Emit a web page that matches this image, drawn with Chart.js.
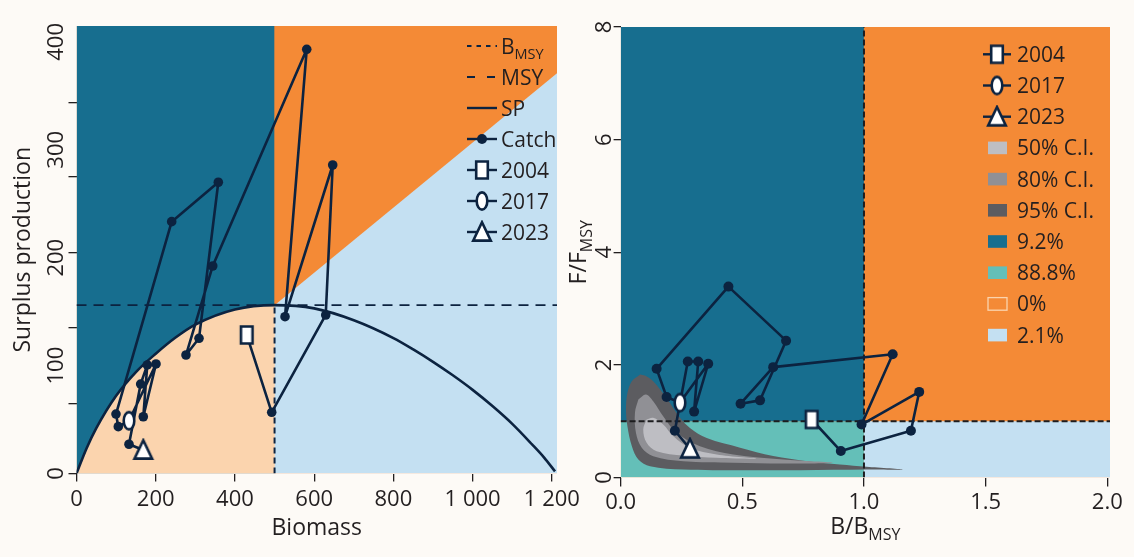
<!DOCTYPE html>
<html lang="nb">
<head>
<meta charset="utf-8">
<title>Surplus production and stock status</title>
<script src="https://cdn.jsdelivr.net/npm/chart.js@4.4.1/dist/chart.umd.min.js"></script>
<style>
  html, body { margin: 0; padding: 0; background: #fdfaf6; }
  #stage { position: relative; width: 1134px; height: 557px; overflow: hidden; background: #fdfaf6; }
  #stage canvas { position: absolute; top: 0; }
  #spChart { left: 0; }
  #kobeChart { left: 567px; }
</style>
</head>
<body>
<div id="stage">
  <canvas id="spChart" width="600" height="557"></canvas>
  <canvas id="kobeChart" width="567" height="557"></canvas>
</div>
<script>
// ---------- data ----------
const years = [2004, 2005, 2006, 2007, 2008, 2009, 2010, 2011, 2012, 2013,
               2014, 2015, 2016, 2017, 2018, 2019, 2020, 2021, 2022, 2023];

// surplus production panel: biomass and catch per year
const biomass = [429.7, 492.8, 629.2, 646.8, 526.4, 581.2, 343.9, 276.4, 309.3, 358.0,
                 240.3, 99.7, 105.5, 132.5, 200.7, 168.6, 178.7, 162.0, 132.5, 168.6];
const catches = [128.4, 56.7, 146.9, 285.9, 145.3, 393.1, 192.3, 109.8, 125.3, 269.9,
                 233.4, 55.1, 43.4, 48.9, 101.5, 52.6, 100.6, 82.9, 27.1, 21.8];

// surplus production curve
const spBiomass = [0, 25, 50, 100, 150, 200, 250, 300, 400, 500, 600, 700, 800, 850, 900, 950, 1000, 1050, 1100, 1150, 1180, 1208];
const spValues  = [0, 23, 42, 72, 94, 111, 126, 138, 152, 156, 153, 142, 125.5, 115, 103.5, 91, 77.5, 62.5, 46, 27, 15, 2];

const bmsy = 500;
const msy = 156;
// catch level at F = Fmsy (boundary between the orange and light blue zones)
const fmsyCatchB = [500, 1213];
const fmsyCatchC = [156, 371];

const leftXTicks = [0, 200, 400, 600, 800, 1000, 1200];
const leftYLabels = [0, 100, 200, 300, 400];
const leftYTickMarks = [0, 65, 135, 205, 275, 344];

// stock status panel: B/Bmsy and F/Fmsy per year
const relB = [0.785, 0.905, 1.193, 1.227, 0.990, 1.118, 0.627, 0.493, 0.573, 0.680,
              0.443, 0.148, 0.189, 0.244, 0.360, 0.302, 0.319, 0.276, 0.223, 0.285];
const relF = [1.03, 0.47, 0.83, 1.52, 0.94, 2.19, 1.96, 1.31, 1.37, 2.43,
              3.39, 1.93, 1.43, 1.33, 2.02, 1.17, 2.06, 2.06, 0.83, 0.51];

// confidence regions of the final-year status (outline points)
const ci95B = [0.080, 0.046, 0.028, 0.022, 0.028, 0.046, 0.073, 0.121, 0.258, 0.463, 0.737, 1.011, 1.161,
               1.011, 0.901, 0.765, 0.627, 0.491, 0.354, 0.285, 0.244, 0.189, 0.134, 0.100];
const ci95F = [1.83, 1.71, 1.50, 1.21, 0.91, 0.56, 0.32, 0.20, 0.14, 0.13, 0.13, 0.14, 0.14,
               0.19, 0.23, 0.29, 0.38, 0.53, 0.70, 0.88, 1.06, 1.41, 1.71, 1.81];
const ci80B = [0.073, 0.059, 0.063, 0.087, 0.134, 0.258, 0.463, 0.668, 0.874,
               0.668, 0.463, 0.326, 0.230, 0.175, 0.134, 0.104];
const ci80F = [1.384, 1.148, 0.793, 0.527, 0.378, 0.289, 0.261, 0.248, 0.261,
               0.319, 0.408, 0.555, 0.793, 1.088, 1.354, 1.473];
const ci50B = [0.107, 0.093, 0.107, 0.148, 0.258, 0.395, 0.559, 0.395, 0.285, 0.217, 0.175, 0.134];
const ci50F = [1.029, 0.852, 0.616, 0.467, 0.390, 0.349, 0.332, 0.408, 0.527, 0.733, 0.941, 1.059];

const rightXTicks = [0, 0.5, 1, 1.5, 2];
const rightYTicks = [0, 2, 4, 6, 8];

const markedYears = [2004, 2017, 2023];
const ciLabels = ['50% C.I.', '80% C.I.', '95% C.I.'];
const kobeShares = ['9.2%', '88.8%', '0%', '2.1%'];

// ---------- styling ----------
const NAVY = '#0c2340';
const INK = '#231f20';
const C_DARK = '#176e8f';
const C_ORANGE = '#f48a36';
const C_LIGHT = '#c4e0f2';
const C_PEACH = '#fbd4ae';
const C_TEAL = '#64bfb8';
const C_CI50 = '#bebec3';
const C_CI80 = '#909095';
const C_CI95 = '#5c5c60';
const FAMILY = "'Open Sans', 'Noto Sans', sans-serif";

Chart.defaults.font.family = FAMILY;
Chart.defaults.color = INK;

const xy = (xs, ys) => xs.map((x, i) => ({ x: x, y: ys[i] }));
const closed = pts => pts.concat([pts[0]]);

// year markers as small canvases
function markerCanvas(kind) {
  const c = document.createElement('canvas');
  c.width = 24; c.height = 24;
  const g = c.getContext('2d');
  g.fillStyle = '#ffffff';
  g.strokeStyle = NAVY;
  g.lineWidth = 2.6;
  g.lineJoin = 'miter';
  g.beginPath();
  if (kind === 'rect') g.rect(6.2, 3.5, 11.6, 17);
  if (kind === 'ellipse') g.ellipse(12, 12, 5.3, 8.6, 0, 0, Math.PI * 2);
  if (kind === 'triangle') { g.moveTo(12, 2.3); g.lineTo(20.8, 20.6); g.lineTo(3.2, 20.6); g.closePath(); }
  g.fill();
  g.stroke();
  return c;
}
const markerImgs = [markerCanvas('rect'), markerCanvas('ellipse'), markerCanvas('triangle')];

function font(size) { return size + 'px ' + FAMILY; }

// draws a run of text pieces (used for subscripts)
function drawRich(ctx, parts, x, y, align) {
  let w = 0;
  parts.forEach(p => { ctx.font = font(p.size); p.w = ctx.measureText(p.t).width; w += p.w; });
  let cx = align === 'center' ? x - w / 2 : x;
  ctx.textAlign = 'left';
  ctx.textBaseline = 'alphabetic';
  parts.forEach(p => { ctx.font = font(p.size); ctx.fillText(p.t, cx, y + (p.dy || 0)); cx += p.w; });
}

function legendLine(ctx, x0, x1, y, dash, width) {
  ctx.save();
  ctx.strokeStyle = NAVY;
  ctx.lineWidth = width;
  ctx.setLineDash(dash);
  ctx.beginPath();
  ctx.moveTo(x0, y);
  ctx.lineTo(x1, y);
  ctx.stroke();
  ctx.restore();
}

function legendDot(ctx, x, y, r) {
  ctx.save();
  ctx.fillStyle = NAVY;
  ctx.beginPath();
  ctx.arc(x, y, r, 0, Math.PI * 2);
  ctx.fill();
  ctx.restore();
}

function drawImgAt(ctx, img, x, y) {
  ctx.drawImage(img, x - img.width / 2, y - img.height / 2);
}

function rotatedLabel(ctx, parts, x, y) {
  ctx.save();
  ctx.translate(x, y);
  ctx.rotate(-Math.PI / 2);
  drawRich(ctx, parts, 0, 0, 'center');
  ctx.restore();
}

const fmtThousands = v => String(v).replace(/\B(?=(\d{3})+(?!\d))/g, ' ');

const tickGrid = len => ({ drawOnChartArea: false, drawTicks: true, tickLength: len, color: INK, lineWidth: 1.3 });

const area = (data, fill, color, order, extra) => Object.assign({
  data: data, fill: fill, backgroundColor: color, borderColor: 'transparent',
  borderWidth: 0, pointRadius: 0, order: order
}, extra || {});

const path = (data, width, dash, order, extra) => Object.assign({
  data: data, fill: false, borderColor: NAVY, borderWidth: width, borderDash: dash,
  pointRadius: 0, order: order, borderCapStyle: 'butt', borderJoinStyle: 'round'
}, extra || {});

// ---------- surplus production panel ----------
const xMaxLeft = 1213;
const yMaxLeft = 414.7;
const spPts = xy(spBiomass, spValues);
const catchPts = xy(biomass, catches);

const leftDatasets = [
  // orange underlay across the whole panel, the other zones are laid on top
  area([{ x: 0, y: 0 }, { x: xMaxLeft, y: 0 }], 'end', C_ORANGE, 31),
  area([{ x: 0, y: 0 }, { x: bmsy, y: 0 }], 'end', C_DARK, 30),
  area(spPts.filter(p => p.x <= 600), 'origin', C_PEACH, 29, { cubicInterpolationMode: 'monotone' }),
  area(xy(fmsyCatchB, fmsyCatchC), 'origin', C_LIGHT, 28),
  path([{ x: bmsy, y: 0 }, { x: bmsy, y: msy }], 2, [6, 4], 8),
  path([{ x: 0, y: msy }, { x: xMaxLeft, y: msy }], 1.8, [10, 7], 8),
  path(spPts, 2.6, [], 6, { cubicInterpolationMode: 'monotone' }),
  path(catchPts, 2.6, [], 4, { pointRadius: 4.8, pointBackgroundColor: NAVY, pointBorderColor: NAVY, pointBorderWidth: 0 })
];
markedYears.forEach((yr, k) => {
  const i = years.indexOf(yr);
  leftDatasets.push({ data: [catchPts[i]], showLine: false, pointStyle: markerImgs[k], pointRadius: 9, order: 1 });
});

const spText = {
  id: 'spText',
  afterDraw(chart) {
    const ctx = chart.ctx;
    const ys = chart.scales.y;
    const ca = chart.chartArea;
    ctx.save();
    ctx.fillStyle = INK;
    // rotated y labels
    leftYLabels.forEach(v => rotatedLabel(ctx, [{ t: String(v), size: 22 }], 63, ys.getPixelForValue(v)));
    // axis titles
    rotatedLabel(ctx, [{ t: 'Surplus production', size: 23 }], 30, (ca.top + ca.bottom) / 2);
    drawRich(ctx, [{ t: 'Biomass', size: 23 }], (ca.left + ca.right) / 2, 535, 'center');
    // legend
    const x0 = 467, x1 = 497, xc = 482, xt = 501;
    const rows = [46, 77, 108, 139, 170, 201, 232];
    const base = r => r + 7.5;
    legendLine(ctx, x0, x1, rows[0], [4.5, 5], 2);
    drawRich(ctx, [{ t: 'B', size: 21 }, { t: 'MSY', size: 14.5, dy: 5 }], xt, base(rows[0]), 'left');
    legendLine(ctx, x0, x1, rows[1], [8, 12], 2);
    drawRich(ctx, [{ t: 'MSY', size: 21 }], xt, base(rows[1]), 'left');
    legendLine(ctx, x0, x1, rows[2], [], 2.4);
    drawRich(ctx, [{ t: 'SP', size: 21 }], xt, base(rows[2]), 'left');
    legendLine(ctx, x0, x1, rows[3], [], 2.4);
    legendDot(ctx, xc, rows[3], 5);
    drawRich(ctx, [{ t: 'Catch', size: 21 }], xt, base(rows[3]), 'left');
    markedYears.forEach((yr, k) => {
      const r = rows[4 + k];
      legendLine(ctx, x0, x1, r, [], 2.4);
      drawImgAt(ctx, markerImgs[k], xc, r);
      drawRich(ctx, [{ t: String(yr), size: 21 }], xt, base(r), 'left');
    });
    ctx.restore();
  }
};

new Chart(document.getElementById('spChart'), {
  type: 'line',
  data: { datasets: leftDatasets },
  options: {
    responsive: false,
    animation: false,
    events: [],
    layout: { padding: { left: 0, right: 43, top: 26, bottom: 0 } },
    plugins: { legend: { display: false }, tooltip: { enabled: false } },
    scales: {
      x: {
        type: 'linear', min: 0, max: xMaxLeft,
        afterBuildTicks: s => { s.ticks = leftXTicks.map(v => ({ value: v })); },
        afterFit: s => { s.height = 83.5; },
        ticks: { callback: v => fmtThousands(v), padding: 5, font: { size: 22 }, color: INK, maxRotation: 0, autoSkip: false },
        grid: tickGrid(8),
        border: { display: false }
      },
      y: {
        type: 'linear', min: 0, max: yMaxLeft,
        afterBuildTicks: s => { s.ticks = leftYTickMarks.map(v => ({ value: v })); },
        afterFit: s => { s.width = 76.5; },
        ticks: { display: false },
        grid: tickGrid(8),
        border: { display: false }
      }
    }
  },
  plugins: [spText]
});

// ---------- stock status panel ----------
const xMaxRight = 2.011;
const yMaxRight = 8;
const statusPts = xy(relB, relF);

const rightDatasets = [
  area([{ x: 0, y: 0 }, { x: xMaxRight, y: 0 }], 'end', C_ORANGE, 31),
  area([{ x: 0, y: 1 }, { x: 1, y: 1 }], 'end', C_DARK, 30),
  area([{ x: 0, y: 1 }, { x: 1, y: 1 }], 'origin', C_TEAL, 30),
  area([{ x: 1, y: 1 }, { x: xMaxRight, y: 1 }], 'origin', C_LIGHT, 30),
  area(closed(xy(ci95B, ci95F)), 'shape', C_CI95, 26, { tension: 0.35 }),
  area(closed(xy(ci80B, ci80F)), 'shape', C_CI80, 25, { tension: 0.35 }),
  area(closed(xy(ci50B, ci50F)), 'shape', C_CI50, 24, { tension: 0.35 }),
  path([{ x: 1, y: 0 }, { x: 1, y: yMaxRight }], 2, [6, 3], 8, { borderColor: '#1d1d1f' }),
  path([{ x: 0, y: 1 }, { x: xMaxRight, y: 1 }], 2, [6, 3], 8, { borderColor: '#1d1d1f' }),
  path(statusPts, 2.6, [], 4, { pointRadius: 5, pointBackgroundColor: NAVY, pointBorderColor: NAVY, pointBorderWidth: 0 })
];
markedYears.forEach((yr, k) => {
  const i = years.indexOf(yr);
  rightDatasets.push({ data: [statusPts[i]], showLine: false, pointStyle: markerImgs[k], pointRadius: 9, order: 1 });
});

const kobeText = {
  id: 'kobeText',
  afterDraw(chart) {
    const ctx = chart.ctx;
    const ys = chart.scales.y;
    const ca = chart.chartArea;
    ctx.save();
    ctx.fillStyle = INK;
    rightYTicks.forEach(v => rotatedLabel(ctx, [{ t: String(v), size: 22 }], 44, ys.getPixelForValue(v)));
    rotatedLabel(ctx, [{ t: 'F/F', size: 23 }, { t: 'MSY', size: 16, dy: 6 }], 19, (ca.top + ca.bottom) / 2);
    drawRich(ctx, [{ t: 'B/B', size: 23 }, { t: 'MSY', size: 16, dy: 6 }], (ca.left + ca.right) / 2, 534, 'center');
    // legend
    const x0 = 416, x1 = 444, xc = 430, xt = 450;
    const rows = [54.3, 85.5, 116.7, 147.9, 179.1, 210.3, 241.5, 272.7, 303.9, 335.1];
    const base = r => r + 7.5;
    markedYears.forEach((yr, k) => {
      legendLine(ctx, x0, x1, rows[k], [], 2.4);
      drawImgAt(ctx, markerImgs[k], xc, rows[k]);
      drawRich(ctx, [{ t: String(yr), size: 21 }], xt, base(rows[k]), 'left');
    });
    const boxes = [
      { fill: C_CI50, text: ciLabels[0] },
      { fill: C_CI80, text: ciLabels[1] },
      { fill: C_CI95, text: ciLabels[2] },
      { fill: C_DARK, text: kobeShares[0] },
      { fill: C_TEAL, text: kobeShares[1] },
      { fill: C_ORANGE, text: kobeShares[2], edge: C_PEACH },
      { fill: C_LIGHT, text: kobeShares[3] }
    ];
    boxes.forEach((b, k) => {
      const r = rows[3 + k];
      ctx.fillStyle = b.fill;
      ctx.fillRect(421, r - 6.3, 19, 12.6);
      if (b.edge) {
        ctx.strokeStyle = b.edge;
        ctx.lineWidth = 1.3;
        ctx.strokeRect(421, r - 6.3, 19, 12.6);
      }
      ctx.fillStyle = INK;
      drawRich(ctx, [{ t: b.text, size: 21 }], xt, base(r), 'left');
    });
    ctx.restore();
  }
};

new Chart(document.getElementById('kobeChart'), {
  type: 'line',
  data: { datasets: rightDatasets },
  options: {
    responsive: false,
    animation: false,
    events: [],
    layout: { padding: { left: 0, right: 24, top: 27, bottom: 0 } },
    plugins: { legend: { display: false }, tooltip: { enabled: false } },
    scales: {
      x: {
        type: 'linear', min: 0, max: xMaxRight,
        afterBuildTicks: s => { s.ticks = rightXTicks.map(v => ({ value: v })); },
        afterFit: s => { s.height = 79.5; },
        ticks: { callback: v => v.toFixed(1), padding: 3, font: { size: 22 }, color: INK, maxRotation: 0, autoSkip: false },
        grid: tickGrid(9),
        border: { display: false }
      },
      y: {
        type: 'linear', min: 0, max: yMaxRight,
        afterBuildTicks: s => { s.ticks = rightYTicks.map(v => ({ value: v })); },
        afterFit: s => { s.width = 53.6; },
        ticks: { display: false },
        grid: tickGrid(7),
        border: { display: false }
      }
    }
  },
  plugins: [kobeText]
});
</script>
</body>
</html>
